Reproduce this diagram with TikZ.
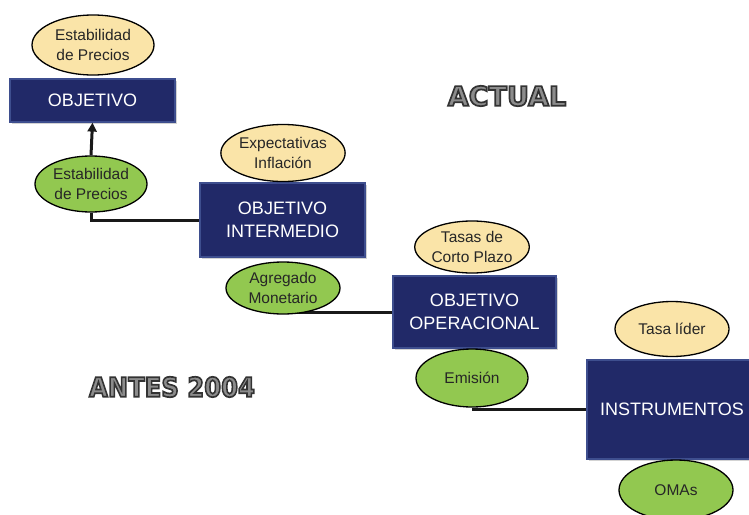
\documentclass[tikz,border=0pt]{standalone}
\usepackage{fontspec}
\setmainfont{Liberation Sans}
\newfontfamily\titlefont{DejaVu Sans}
\usetikzlibrary{shapes.geometric,arrows.meta,backgrounds,shadows,calc}
\definecolor{navy}{RGB}{33,41,104}
\definecolor{navyedge}{RGB}{62,78,142}
\definecolor{beige}{RGB}{250,228,168}
\definecolor{lgreen}{RGB}{146,200,80}
\definecolor{titlefill}{RGB}{140,140,140}
\newcommand\outlinedword[1]{\special{pdf:code 2 Tr 1.7 w 0.2 0.2 0.2 RG}#1\special{pdf:code 0 Tr}}
\begin{document}
\begin{tikzpicture}[x=1pt,y=-1pt,
  box/.style={rectangle, draw=navyedge, line width=1.2pt, fill=navy, text=white,
    font=\fontsize{18}{23}\selectfont, align=center, inner sep=0pt,
    drop shadow={shadow xshift=1.5pt, shadow yshift=-1.5pt, opacity=0.35}},
  oval/.style={ellipse, draw=black, line width=1.3pt, inner sep=0pt,
    font=\fontsize{15.5}{19.5}\selectfont, align=center, text=black!85},
  beigeoval/.style={oval, fill=beige},
  greenoval/.style={oval, fill=lgreen},
  conn/.style={draw=black!90, line width=3pt},
  titlemain/.style={text=titlefill, font=\titlefont\bfseries\fontsize{27}{30}\selectfont, inner sep=0pt}
]
\useasboundingbox (0,0) rectangle (749,514);
\clip (0,0) rectangle (749,514);

% boxes
\node[box, minimum width=165pt, minimum height=43pt] (b1) at (92.5,100.5) {OBJETIVO};
\node[box, minimum width=165pt, minimum height=74pt] (b2) at (282.5,220) {OBJETIVO\\INTERMEDIO};
\node[box, minimum width=163pt, minimum height=72pt] (b3) at (474.5,312) {OBJETIVO\\OPERACIONAL};
\node[box, minimum width=170pt, minimum height=99pt] (b4) at (672,409.5) {INSTRUMENTOS};

% ellipses
\node[beigeoval, minimum width=122pt, minimum height=60pt] (e1) at (93,45) {Estabilidad\\de Precios};
\node[greenoval, minimum width=112pt, minimum height=56pt] (g1) at (91,184) {Estabilidad\\de Precios};
\node[beigeoval, minimum width=121pt, minimum height=57pt] (e2) at (283,153) {Expectativas\\Inflación};
\node[greenoval, minimum width=114pt, minimum height=52pt] (g2) at (283,288) {Agregado\\Monetario};
\node[beigeoval, minimum width=112pt, minimum height=52pt] (e3) at (472,247) {Tasas de\\Corto Plazo};
\node[greenoval, minimum width=112pt, minimum height=58pt] (g3) at (472,378) {Emisión};
\node[beigeoval, minimum width=114pt, minimum height=55pt] (e4) at (672,329) {Tasa líder};
\node[greenoval, minimum width=114pt, minimum height=60pt] (g4) at (676,490) {OMAs};

% connectors
\begin{scope}[on background layer]
\draw[conn] (g1.south) |- (b2.west);
\draw[conn] (b3.west) -- (b3.west -| g2.south);
\draw[conn] (b4.west) -- (b4.west -| g3.south);
\end{scope}
\draw[conn, -{Triangle[length=9pt,width=9pt]}] (g1.north) -- (b1.south);

% titles
\node[titlemain] (actual) at (507,96) {\outlinedword{ACTUAL}};
\node[titlemain] (antes) at (172,387) {\scalebox{0.9}[1]{\outlinedword{ANTES 2004}}};
\end{tikzpicture}
\end{document}
